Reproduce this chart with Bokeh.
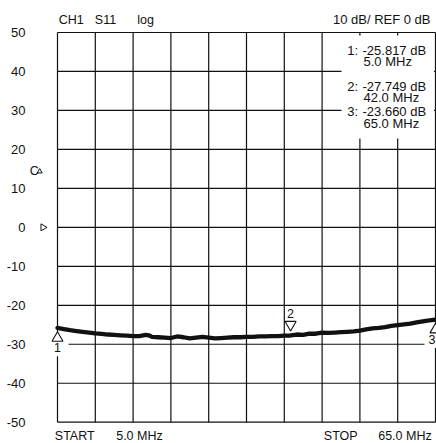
import numpy as np
from bokeh.plotting import figure
from bokeh.core.properties import value
from bokeh.embed import file_html
from bokeh.resources import INLINE

# ---------------- data ----------------
start_mhz = 5.0
stop_mhz = 65.0
ref_db = 0.0
db_per_div = 10.0

freq_mhz = [5, 6, 7, 8, 9, 10, 11, 12, 13, 14, 15, 16, 17, 18, 19, 19.5, 20, 21, 22, 23,
            24, 25, 26, 27, 28, 29, 30, 31, 32, 33, 34, 35, 36, 37, 38, 39, 40, 41, 42, 43,
            44, 45, 46, 47, 48, 49, 50, 51, 52, 53, 54, 55, 56, 57, 58, 59, 60, 61, 62, 63,
            64, 65]
s11_db = [-25.8, -26.1, -26.4, -26.6, -26.8, -27.0, -27.2, -27.35, -27.5, -27.6, -27.7, -27.8,
          -27.9, -27.9, -27.6, -27.7, -28.1, -28.2, -28.3, -28.4, -28.0, -28.2, -28.5, -28.3,
          -28.1, -28.3, -28.5, -28.4, -28.3, -28.2, -28.2, -28.1, -28.1, -28.0, -28.0, -27.9,
          -27.9, -27.8, -27.75, -27.5, -27.6, -27.3, -27.3, -27.0, -27.1, -27.0, -26.9, -26.8,
          -26.7, -26.5, -26.2, -25.9, -25.8, -25.6, -25.3, -25.1, -24.9, -24.7, -24.4, -24.1,
          -23.9, -23.66]

marker_id = ["1", "2", "3"]
marker_freq = [5.0, 42.0, 65.0]
marker_db = [-25.817, -27.749, -23.660]
marker_dir = ["up", "down", "up"]

y_ticks = [50, 40, 30, 20, 10, 0, -10, -20, -30, -40, -50]
y_tick_labels = [str(v) for v in y_ticks]
x_grid = [start_mhz + (stop_mhz - start_mhz) * i / 10 for i in range(11)]

header_left = ["CH1", "S11", "log"]
header_right = "10 dB/ REF 0 dB"
footer = ["START", "5.0 MHz", "STOP", "65.0 MHz"]

# ---------------- geometry ----------------
W, H = 436, 443
L, R = 57.0, 435.0      # canvas px of start / stop
T, B = 32.0, 421.7      # canvas px of +50 / -50
sx = (stop_mhz - start_mhz) / (R - L)
sy = 100.0 / (B - T)
x_range = (start_mhz - L * sx, stop_mhz + (W - R) * sx)
y_range = (-50 - (H - B) * sy, 50 + T * sy)


def X(px):  # canvas px -> MHz
    return start_mhz + (px - L) * sx


def Y(py):  # canvas px -> dB
    return 50 - (py - T) * sy


FONT = value("Liberation Sans")
INK = "#111111"

p = figure(width=W, height=H, x_range=x_range, y_range=y_range,
           x_axis_type=None, y_axis_type=None, min_border=0,
           outline_line_color=None, toolbar_location=None,
           output_backend="svg", background_fill_color="white",
           border_fill_color="white")

# grid
p.segment(x0=x_grid, x1=x_grid, y0=[-50] * 11, y1=[50] * 11, line_color=INK, line_width=1.2)
p.segment(x0=[start_mhz] * 11, x1=[stop_mhz] * 11, y0=y_ticks, y1=y_ticks,
          line_color=INK, line_width=1.2)

# marker list white box
p.quad(left=[X(341)], right=[X(433.5)], top=[Y(35)], bottom=[Y(138)],
       fill_color="white", line_color=None)

# white boxes behind marker 1 & 3 labels
bx = [f for f, d in zip(marker_freq, marker_dir) if d == "up"]
by = [v - 4.2 for v, d in zip(marker_db, marker_dir) if d == "up"]
p.rect(x=bx, y=by, width=22, height=24, width_units="screen", height_units="screen",
       fill_color="white", line_color=None)

# trace
p.line(freq_mhz, s11_db, line_width=4.3, line_color=INK, line_join="round", line_cap="round")

# marker triangles and numbers
for mid, f, v, d in zip(marker_id, marker_freq, marker_db, marker_dir):
    align = "right" if f >= stop_mhz else "center"
    if d == "up":
        p.scatter([f], [v - 2.6], marker="triangle", size=11, fill_color="white",
                  line_color=INK, line_width=1.1)
        p.text([f], [v - 5.0], text=[mid], text_font=FONT, text_font_size="12.5px",
               text_align=align, text_baseline="middle", text_color=INK)
    else:
        p.scatter([f], [v + 2.8], marker="inverted_triangle", size=11, fill_color=None,
                  line_color=INK, line_width=1.1)
        p.text([f], [v + 5.6], text=[mid], text_font=FONT, text_font_size="12.5px",
               text_align=align, text_baseline="middle", text_color=INK)

# y tick labels
p.text(x=[start_mhz] * 11, y=y_ticks, text=y_tick_labels, x_offset=-32,
       text_font=FONT, text_font_size="13px", text_align="right",
       text_baseline="middle", text_color=INK)

# header
p.text(x=[X(58.3), X(94.3), X(136.7)], y=[Y(19.3)] * 3, text=header_left,
       text_font=FONT, text_font_size="12.5px", text_align="left",
       text_baseline="middle", text_color=INK)
p.text(x=[X(430)], y=[Y(19.3)], text=[header_right], text_font=FONT,
       text_font_size="13px", text_align="right", text_baseline="middle", text_color=INK)

# marker readout
rows_y = [49.7, 85.5, 111.3]
sub_dy = 11.5
p.text(x=[X(346.7)] * 3, y=[Y(r) for r in rows_y], text=[m + ":" for m in marker_id],
       text_font=FONT, text_font_size="13px", text_align="left",
       text_baseline="middle", text_color=INK)
p.text(x=[X(362)] * 3, y=[Y(r) for r in rows_y], text=[f"{v:.3f} dB" for v in marker_db],
       text_font=FONT, text_font_size="13px", text_align="left",
       text_baseline="middle", text_color=INK)
p.text(x=[X(363)] * 3, y=[Y(r + sub_dy) for r in rows_y],
       text=[f"{f:.1f} MHz" for f in marker_freq],
       text_font=FONT, text_font_size="13px", text_align="left",
       text_baseline="middle", text_color=INK)

# reference / scale indicators on the left
p.text(x=[X(29.3)], y=[Y(170.5)], text=["C"], text_font=FONT, text_font_size="12.5px",
       text_align="left", text_baseline="middle", text_color=INK)
p.scatter([X(39.2)], [Y(171)], marker="triangle", size=5, fill_color=None,
          line_color=INK, line_width=1)
p.scatter([X(42.5)], [ref_db], marker="triangle", size=7, angle=-np.pi / 2,
          fill_color=None, line_color=INK, line_width=1)

# footer
p.text(x=[X(54.3), X(115.7), X(323.3), X(377.7)], y=[Y(435.5)] * 4, text=footer,
       text_font=FONT, text_font_size="12.5px", text_align="left",
       text_baseline="middle", text_color=INK)

open("out.html", "w").write(file_html(p, INLINE))
